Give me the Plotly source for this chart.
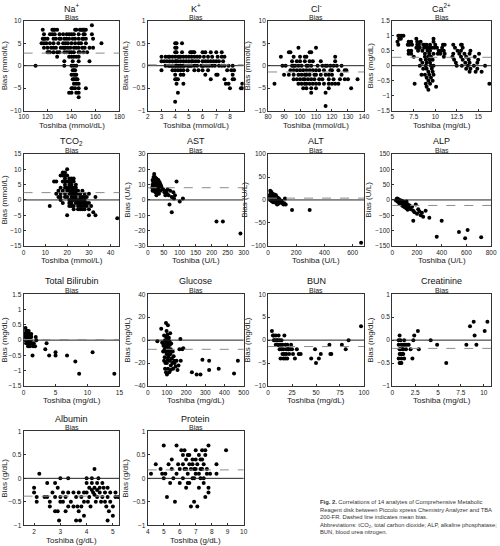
import plotly.graph_objects as go

# ---- data ----
# quantised panels: bias level -> Toshiba values
na_rows = {9: [157], 8: [116, 124, 125, 126, 128, 143, 144, 147, 148, 149, 150, 151, 152],
           7: [117, 122, 124, 126, 130, 133, 136, 138, 140, 142, 146, 150, 151, 157],
           6: [116, 117, 118, 120, 125, 127, 130, 131, 134, 136, 138, 141, 143, 146, 149, 150, 152, 158],
           5: [115, 117, 119, 122, 125, 129, 133, 135, 137, 140, 143, 146, 148, 152, 165],
           4: [117, 120, 123, 125, 127, 131, 133, 134, 135, 137, 139, 142, 144, 146, 149, 151, 155, 158],
           3: [120, 121, 122, 125, 128, 130, 134, 136, 138, 140, 142, 146, 147, 150, 153],
           2: [128, 138, 140, 142, 144, 146], 1: [134, 141, 146, 155], 0: [110, 134, 140, 142, 144],
           -1: [141, 142, 143], -2: [140, 142, 143, 144], -3: [141, 142, 143, 144, 145],
           -4: [142, 144, 146], -5: [140, 141, 143, 146, 152], -6: [138, 140, 144, 146], -7: [146]}

k_rows = {0.5: [4.0, 4.1, 4.5], 0.4: [4.0, 4.1],
          0.3: [4.0, 4.1, 4.5, 5.1, 5.2, 5.3, 5.4, 6.0, 6.2, 6.6, 7.0, 7.4],
          0.2: [3.0, 3.3, 3.5, 3.6, 3.8, 4.0, 4.2, 4.3, 4.4, 4.6, 4.8, 5.0, 5.2, 5.4, 5.6, 5.8, 6.1, 6.4, 6.7, 7.1, 7.4, 7.6],
          0.1: [3.0, 3.2, 3.4, 3.6, 3.8, 4.0, 4.1, 4.2, 4.4, 4.6, 4.8, 5.0, 5.2, 5.3, 5.5, 5.7, 6.0, 6.2, 6.4, 6.6, 6.8, 7.0, 7.2, 7.5],
          0.0: [3.3, 3.5, 3.6, 3.7, 3.8, 3.9, 4.0, 4.1, 4.2, 4.3, 4.4, 4.5, 4.6, 4.7, 4.9, 5.0, 5.1, 5.2, 5.4, 5.6,
                5.9, 6.0, 6.1, 6.3, 6.5, 6.7, 6.9, 7.2, 7.4, 7.6, 7.9, 8.2],
          -0.1: [3.0, 3.8, 4.0, 4.2, 4.4, 4.6, 4.9, 5.4, 5.7, 6.0, 6.4, 7.8, 8.1, 8.3],
          -0.2: [4.0, 4.4, 4.6, 6.2, 7.0, 7.1, 8.2], -0.3: [4.0, 4.1, 4.2, 6.6, 7.6, 8.2, 8.3],
          -0.4: [4.1, 4.6, 7.7, 7.9, 8.9], -0.5: [8.0, 8.8, 8.9], -0.6: [4.2], -0.8: [4.0]}

cl_rows = {4: [99, 110], 3: [93, 94, 106, 107], 2: [88, 96, 100, 103, 104, 122],
           1: [95, 98, 100, 103, 106, 108, 113, 122],
           0: [89, 91, 95, 96, 97, 99, 101, 104, 105, 107, 111, 114, 116, 117, 119, 121, 123, 126],
           -1: [94, 96, 98, 100, 102, 104, 106, 108, 110, 112, 115, 119, 120, 124, 128, 129],
           -2: [90, 93, 96, 99, 101, 103, 104, 106, 109, 110, 113, 116, 118, 120, 126],
           -3: [96, 98, 100, 102, 103, 105, 107, 109, 112, 114, 118, 121, 125, 128, 130, 136],
           -4: [84, 99, 101, 103, 104, 106, 108, 110, 112, 115, 118, 120, 122, 124],
           -5: [102, 104, 107, 110, 118, 132], -6: [107, 116], -9: [116]}

ca_rows = {1.0: [5.7, 5.9, 6.1, 6.3], 0.9: [5.8, 6.0, 7.8, 9.8], 0.8: [5.6, 6.9, 7.2, 7.9, 8.3, 9.8],
           0.7: [5.7, 6.8, 7.0, 7.3, 7.9, 8.1, 8.6, 8.8, 9.0, 9.4, 10.0, 10.9, 11.1, 12.1, 13.0, 13.1],
           0.6: [7.8, 8.0, 8.2, 8.7, 9.0, 9.3, 9.6, 9.9, 10.2, 10.8, 12.3, 13.2],
           0.5: [6.9, 7.2, 8.0, 8.5, 9.1, 9.4, 10.4, 10.7, 11.0, 12.6, 13.0, 14.1],
           0.4: [6.9, 7.2, 8.8, 9.3, 9.8, 10.3, 10.6, 11.1, 12.1, 12.8, 13.4, 14.0, 15.1],
           0.3: [7.5, 8.8, 9.2, 9.5, 11.0, 12.0, 13.0, 13.6, 14.6],
           0.2: [8.3, 8.9, 9.3, 9.7, 12.2, 13.2, 13.9, 15.0],
           0.1: [8.5, 9.0, 9.4, 12.4, 13.5, 14.0, 14.9],
           0.0: [8.2, 8.9, 9.5, 9.8, 12.5, 13.1, 13.8, 14.5, 15.8],
           -0.1: [8.6, 9.0, 9.6, 13.6, 14.1, 14.9], -0.2: [9.2, 9.7, 14.0, 14.7, 15.4],
           -0.3: [8.4, 8.8, 9.3, 9.8], -0.4: [9.0, 9.5], -0.5: [9.2, 9.7],
           -0.6: [7.6, 8.9, 9.4, 16.3], -0.7: [9.0, 10.1], -0.8: [9.2]}

tco2_rows = {10: [20], 9: [18, 19], 8: [17, 18, 19, 20], 7: [19, 21, 22, 23],
             6: [14, 15, 18, 19, 20, 21, 22, 23], 5: [19, 21, 22, 24], 4: [17, 19, 20, 21, 22, 23, 24],
             3: [16, 18, 20, 21, 22, 23, 24, 25, 27], 2: [15, 17, 19, 21, 22, 23, 24, 25, 26, 28, 30],
             1: [16, 17, 19, 20, 22, 23, 24, 26, 27, 28, 29, 33], 0: [17, 21, 22, 23, 24, 25, 26, 27, 28],
             -1: [18, 21, 22, 24, 25, 26, 27, 28, 29, 30], -2: [12, 21, 22, 23, 25, 26, 27, 28, 29, 31],
             -3: [23, 25, 26, 27, 28, 30], -4: [32], -5: [20, 30, 33], -6: [43]}

# (Toshiba, bias) pairs
ast_pts = [(20, 17), (18, 15), (22, 15), (25, 14), (15, 13), (20, 13), (28, 13), (17, 12), (24, 12), (30, 12),
           (35, 12), (18, 11), (22, 11), (26, 11), (32, 11), (38, 11), (15, 10), (20, 10), (24, 10), (28, 10),
           (33, 10), (16, 9), (21, 9), (25, 9), (30, 9), (36, 9), (42, 9), (14, 8), (19, 8), (23, 8), (27, 8),
           (31, 8), (17, 7), (22, 7), (26, 7), (34, 7), (45, 7), (20, 6), (25, 6), (30, 6), (40, 6), (24, 5),
           (28, 5), (52, 5), (35, 4), (60, 4), (27, 3), (55, 3), (65, 3), (70, 6), (62, 7), (80, 5), (85, 3),
           (75, 2), (82, 1), (90, 12), (100, -1), (110, 1), (68, -3), (75, -8), (215, -14), (235, -14),
           (290, -22), (15, 6), (18, 10), (22, 13), (27, 14), (33, 13), (40, 10), (48, 7), (58, 6)]

alt_pts = [(15, 20), (18, 15), (20, 12), (22, 18), (25, 10), (28, 8), (30, 14), (32, 5), (35, 10), (38, 3),
           (40, 8), (42, 0), (45, 6), (48, 2), (50, 10), (52, -2), (55, 4), (58, 7), (60, 0), (62, -5),
           (65, 3), (68, -2), (70, 5), (72, -8), (75, 0), (78, -3), (80, 2), (85, -4), (90, -6), (95, -2),
           (100, -5), (105, -8), (110, -10), (115, -7), (120, 3), (125, -10), (12, 5), (14, 0), (16, 8),
           (24, 3), (26, -3), (34, 0), (36, -5), (44, -2), (54, -6), (64, -10), (20, 2), (10, 10), (30, -1),
           (46, 12), (56, 10), (170, -22), (295, -22), (660, -93)]

alp_pts = [(35, 3), (40, 5), (45, 0), (50, 2), (55, -3), (60, -1), (65, -5), (70, -8), (75, -3), (80, -10),
           (85, -6), (90, -12), (95, -8), (100, -15), (105, -10), (110, -18), (115, -5), (120, -20), (125, -14),
           (130, -25), (140, -18), (150, -30), (160, -22), (45, -6), (55, -10), (65, -14), (75, -16), (85, -20),
           (95, -22), (105, -25), (115, -28), (125, -32), (170, -35), (180, -40), (190, -15), (200, -45),
           (210, -30), (220, -38), (230, -50), (240, -42), (250, -55), (270, -35), (300, -58), (170, -68),
           (360, -120), (400, -68), (540, -105), (590, -125), (610, -98), (720, -122), (30, -2), (50, -4),
           (60, -8), (70, -2), (80, -4), (90, -6)]

tbil_pts = [(0.3, 0.4), (0.4, 0.3), (0.5, 0.3), (0.6, 0.2), (0.3, 0.2), (0.5, 0.2), (0.7, 0.2), (0.9, 0.2),
            (0.4, 0.1), (0.6, 0.1), (0.8, 0.1), (1.0, 0.1), (1.2, 0.1), (0.3, 0.0), (0.5, 0.0), (0.7, 0.0),
            (0.9, 0.0), (1.1, 0.0), (0.4, -0.1), (0.6, -0.1), (0.8, -0.1), (1.0, -0.1), (1.3, -0.1), (1.6, -0.1),
            (0.7, -0.2), (1.0, -0.2), (1.5, -0.2), (1.8, -0.2), (0.5, 0.25), (0.8, 0.3), (1.2, 0.2), (1.9, 0.1),
            (2.0, 0.0), (1.4, -0.5), (3.6, -0.1), (3.4, -0.3), (4.0, -0.5), (5.0, -0.4), (5.0, -0.5),
            (6.8, -0.5), (8.1, -0.7), (8.7, -1.1), (10.8, -0.4), (14.2, -1.1), (0.2, 0.2), (0.3, 0.1),
            (0.6, 0.3), (1.1, 0.15), (0.9, -0.05)]

glu_pts = [(50, -1), (70, 10), (75, -2), (80, -10), (82, -5), (85, 4), (88, -15), (90, 0), (92, -7), (95, 15),
           (95, 3), (97, -4), (98, -12), (100, -20), (100, 1), (102, -8), (103, 5), (104, -2), (105, -25),
           (105, 13), (106, -15), (108, -6), (110, -10), (110, 2), (112, -28), (113, -1), (115, -18), (115, -4),
           (117, 6), (118, -12), (120, -22), (120, -8), (122, -3), (125, -16), (128, -20), (130, -10),
           (132, -25), (135, -14), (138, -18), (140, -20), (145, -23), (150, -18), (155, -26), (160, -22),
           (165, -8), (170, 1), (172, -18), (180, -8), (185, -7), (90, -25), (95, -28), (100, -30), (85, -18),
           (80, -3), (93, -10), (96, -1), (99, -6), (101, -3), (107, 0), (111, -13), (116, -9), (119, -26),
           (230, -28), (255, -30), (275, -30), (285, -17), (320, -18), (320, -26), (370, -25), (450, -29),
           (470, -18), (92, -20), (98, 8), (104, -17), (88, -8)]

bun_pts = [(4, 2), (5, 1), (6, 0), (8, 1), (9, 0), (10, -1), (11, 1), (12, 0), (13, -1), (14, 0), (15, -1),
           (16, -2), (17, 1), (18, -1), (19, -2), (20, -1), (21, -2), (22, -3), (24, -1), (25, -2), (26, -3),
           (28, -4), (30, -2), (32, -3), (34, -3), (8, -1), (10, 0), (12, -2), (13, -4), (15, -3), (16, -4),
           (17, -3), (18, -4), (19, -3), (20, -4), (21, -2), (23, -2), (14, -2), (11, -1), (9, -1), (7, 0),
           (6, 1), (45, -4), (49, -2), (50, -5), (53, -4), (55, -3), (64, -1), (65, -3), (66, -3), (77, -1),
           (81, -2), (84, 0), (97, 3)]

cre_pts = [(0.8, 0.1), (0.9, 0.0), (0.7, -0.1), (1.0, -0.1), (1.2, -0.1), (0.8, -0.2), (1.1, -0.2), (0.9, -0.3),
           (1.2, -0.3), (0.7, -0.4), (1.0, -0.4), (0.8, -0.5), (0.9, -0.5), (1.3, 0.0), (1.4, -0.1), (1.5, -0.2),
           (1.6, -0.1), (1.8, -0.1), (2.0, -0.2), (2.2, -0.4), (2.3, 0.0), (2.4, 0.1), (2.8, 0.2), (2.9, -0.2),
           (0.7, 0.0), (1.1, -0.3), (0.9, -0.2), (1.0, -0.3), (1.2, -0.2), (0.8, -0.3), (1.3, -0.4), (1.0, -0.5),
           (4.2, 0.0), (4.9, -0.1), (5.9, -0.5), (8.1, -0.1), (8.5, 0.3), (8.9, 0.4), (9.0, 0.1), (9.2, -0.1),
           (10.1, 0.2), (10.4, 0.4)]

alb_pts = [(2.0, -0.2), (2.0, -0.3), (2.1, -0.4), (2.1, -0.5), (2.2, 0.1), (2.5, -0.1), (2.4, -0.4), (2.5, -0.4),
           (2.6, -0.5), (2.6, -0.6), (2.7, -0.3), (2.8, -0.1), (2.8, -0.4), (2.9, -0.2), (2.8, -0.7), (2.9, -0.7),
           (2.95, -0.9), (3.0, -0.4), (3.0, -0.5), (3.0, 0.0), (3.1, -0.3), (3.1, -0.5), (3.2, -0.4), (3.2, -0.7),
           (3.3, 0.0), (3.3, -0.6), (3.3, -0.3), (3.4, -0.5), (3.5, -0.6), (3.5, -0.3), (3.6, -0.4), (3.6, -0.9),
           (3.65, -0.6), (3.7, -0.3), (3.7, -0.7), (3.75, -0.9), (3.8, -0.4), (3.8, -0.6), (3.9, -0.3),
           (3.9, -0.8), (4.0, -0.1), (4.0, -0.3), (4.0, 0.0), (4.05, -0.5), (4.1, -0.2), (4.1, -0.4),
           (4.15, -0.6), (4.2, -0.1), (4.2, 0.0), (4.25, -0.3), (4.3, 0.2), (4.3, -0.2), (4.35, -0.5),
           (4.4, -0.1), (4.4, -0.4), (4.45, 0.0), (4.5, -0.2), (4.5, -0.3), (4.55, -0.5), (4.6, -0.1),
           (4.6, -0.4), (4.65, -0.2), (4.7, -0.3), (4.7, -0.5), (4.75, -0.6), (4.8, -0.2), (4.8, -0.4),
           (4.8, -0.9), (4.85, -0.7), (4.9, -0.3), (4.9, -0.5), (5.0, -0.8), (5.0, -0.6), (5.1, -0.4),
           (5.1, -0.3), (5.2, -0.4), (4.2, -0.25), (4.4, -0.25), (3.9, -0.5), (4.3, -0.35)]

pro_pts = [(4.2, 0.1), (4.5, 0.3), (4.8, 0.2), (4.9, 0.1), (5.0, 0.7), (5.0, 0.0), (5.1, 0.1), (5.2, -0.4),
           (5.3, 0.3), (5.4, -0.1), (5.5, 0.2), (5.5, 0.4), (5.6, 0.0), (5.7, -0.5), (5.8, 0.7), (5.8, 0.1),
           (5.9, 0.3), (6.0, -0.1), (6.0, 0.2), (6.1, 0.6), (6.2, 0.3), (6.2, 0.0), (6.3, 0.6), (6.3, 0.2),
           (6.4, -0.2), (6.4, 0.4), (6.5, 0.1), (6.5, 0.5), (6.6, 0.3), (6.6, -0.1), (6.7, 0.2), (6.7, -0.6),
           (6.8, 0.4), (6.8, 0.0), (6.9, -0.5), (6.9, 0.2), (7.0, 0.6), (7.0, 0.1), (7.1, -0.6), (7.1, 0.3),
           (7.2, 0.5), (7.2, -0.2), (7.3, 0.0), (7.3, 0.4), (7.4, 0.2), (7.4, 0.6), (7.5, -0.1), (7.5, 0.3),
           (7.6, -0.4), (7.6, 0.5), (7.7, 0.1), (7.7, 0.2), (7.8, 0.7), (7.8, -0.3), (7.8, -0.2), (7.9, 0.1),
           (8.3, 0.3), (8.3, 0.1), (8.9, 0.6), (6.6, 0.5), (6.8, 0.3), (7.0, 0.2), (7.2, 0.1), (7.4, 0.4),
           (6.4, 0.2), (6.2, 0.5), (7.6, 0.6), (7.0, 0.4), (6.9, 0.0), (6.5, -0.1), (7.3, 0.2), (7.5, 0.0)]

analytes = ["Na<sup>+</sup>", "K<sup>+</sup>", "Cl<sup>-</sup>", "Ca<sup>2+</sup>",
            "TCO<sub>2</sub>", "AST", "ALT", "ALP",
            "Total Bilirubin", "Glucose", "BUN", "Creatinine",
            "Albumin", "Protein"]
mean_bias = [2.8, 0.02, -1.4, 0.28, 2.4, 8, 4, -18, 0.02, -8, -1.4, -0.18, -0.38, 0.18]
y_units = ["mmol/L", "mmol/L", "mmol/L", "mg/dL", "mmol/L", "U/L", "U/L", "U/L",
           "mg/dL", "mg/dL", "mg/dL", "mg/dL", "g/dL", "g/dL"]
x_units = ["mmol/dL", "mmol/dL", "mmol/dL", "mg/dL", "mmol/L", "U/L", "U/L", "U/L",
           "mg/dL", "mg/dL", "mg/dL", "mg/dL", "g/dL", "g/dL"]
x_ranges = [[100, 180], [2, 9], [80, 140], [5, 16.5], [0, 44], [0, 300], [0, 680], [0, 800],
            [0, 15], [0, 500], [0, 100], [0, 10.8], [1.6, 5.25], [4, 10]]
x_ticks = [[100, 120, 140, 160, 180], [2, 3, 4, 5, 6, 7, 8], [80, 90, 100, 110, 120, 130, 140],
           [5, 7.5, 10, 12.5, 15], [0, 10, 20, 30, 40], [0, 50, 100, 150, 200, 250, 300], [0, 200, 400, 600],
           [0, 200, 400, 600, 800], [0, 5, 10, 15], [0, 100, 200, 300, 400, 500], [0, 25, 50, 75, 100],
           [0, 2.5, 5, 7.5, 10], [2, 3, 4, 5], [4, 5, 6, 7, 8, 9, 10]]
y_ranges = [[-10, 10], [-1, 1], [-10, 10], [-1.5, 1.5], [-15, 15], [-30, 30], [-100, 100], [-150, 150],
            [-1.5, 1.5], [-40, 40], [-10, 10], [-1, 1], [-1, 1], [-1, 1]]
y_dticks = [5, 0.5, 5, 0.5, 5, 10, 50, 50, 0.5, 20, 5, 0.5, 0.5, 0.5]


def rows_to_xy(rows):
    xs, ys = [], []
    for b, vals in rows.items():
        for v in vals:
            xs.append(v)
            ys.append(b)
    return xs, ys


def pts_to_xy(pts):
    return [p[0] for p in pts], [p[1] for p in pts]


panel_data = [rows_to_xy(na_rows), rows_to_xy(k_rows), rows_to_xy(cl_rows), rows_to_xy(ca_rows),
              rows_to_xy(tco2_rows), pts_to_xy(ast_pts), pts_to_xy(alt_pts), pts_to_xy(alp_pts),
              pts_to_xy(tbil_pts), pts_to_xy(glu_pts), pts_to_xy(bun_pts), pts_to_xy(cre_pts),
              pts_to_xy(alb_pts), pts_to_xy(pro_pts)]

#### layout in pixels ####
W, H = 500, 546
col_px = [(19, 117), (146, 244), (269, 367), (396, 497)]
row_px = [(17, 108), (152, 245), (294, 387), (433, 528)]
font_family = "Liberation Sans, Arial, Helvetica, sans-serif"

fig = go.Figure()
layout_axes = {}
annotations = []
shapes = []

for i in range(14):
    r, c = divmod(i, 4)
    n = i + 1
    xa = "x" if n == 1 else f"x{n}"
    ya = "y" if n == 1 else f"y{n}"
    x0, x1 = col_px[c]
    y0, y1 = row_px[r]
    xs, ys = panel_data[i]

    fig.add_trace(go.Scatter(x=xs, y=ys, mode="markers", xaxis=xa, yaxis=ya,
                             marker=dict(color="black", size=4), showlegend=False,
                             hoverinfo="x+y"))

    layout_axes["xaxis" if n == 1 else f"xaxis{n}"] = dict(
        domain=[x0 / W, x1 / W], anchor=ya, range=x_ranges[i], tickvals=x_ticks[i],
        showgrid=False, zeroline=False, showline=True, linecolor="#333", linewidth=1, mirror=True,
        ticks="inside", ticklen=2, tickcolor="#333", tickfont=dict(size=6.5, color="#222"))
    layout_axes["yaxis" if n == 1 else f"yaxis{n}"] = dict(
        domain=[1 - y1 / H, 1 - y0 / H], anchor=xa, range=y_ranges[i], dtick=y_dticks[i],
        showgrid=False, zeroline=False, showline=True, linecolor="#333", linewidth=1, mirror=True,
        ticks="inside", ticklen=2, tickcolor="#333", tickfont=dict(size=6.5, color="#222"),
        title=dict(text=f"Bias ({y_units[i]})", standoff=2, font=dict(size=8, color="#222")))

    # zero line and mean bias line
    shapes.append(dict(type="line", xref=f"{xa} domain", yref=ya, x0=0, x1=1, y0=0, y1=0,
                       line=dict(color="#222", width=1)))
    shapes.append(dict(type="line", xref=f"{xa} domain", yref=ya, x0=0, x1=1,
                       y0=mean_bias[i], y1=mean_bias[i],
                       line=dict(color="#8c8c8c", width=1, dash="dash")))

    cx = (x0 + x1) / 2 / W
    annotations.append(dict(text=analytes[i], x=cx, y=1 - (y0 - 13) / H, xref="paper", yref="paper",
                            showarrow=False, xanchor="center", yanchor="middle",
                            font=dict(size=9, color="#111")))
    annotations.append(dict(text="Bias", x=cx, y=1 - (y0 - 3.5) / H, xref="paper", yref="paper",
                            showarrow=False, xanchor="center", yanchor="middle",
                            font=dict(size=7, color="#222")))
    annotations.append(dict(text=f"Toshiba ({x_units[i]})", x=cx, y=1 - (y1 + 15) / H,
                            xref="paper", yref="paper", showarrow=False, xanchor="center",
                            yanchor="middle", font=dict(size=8, color="#222")))

caption = ("<b>Fig. 2.</b> Correlations of 14 analytes of Comprehensive Metabolic<br>"
           "Reagent disk between Piccolo xpress Chemistry Analyzer and TBA<br>"
           "200-FR. Dashed line indicates mean bias.<br>"
           "Abbreviations: tCO<sub>2</sub>, total carbon dioxide; ALP, alkaline phosphatase;<br>"
           "BUN, blood urea nitrogen.")
annotations.append(dict(text=caption, x=320 / W, y=1 - 499 / H, xref="paper", yref="paper",
                        showarrow=False, xanchor="left", yanchor="top", align="left",
                        font=dict(size=5.8, color="#333")))

fig.update_layout(width=W, height=H, margin=dict(l=0, r=0, t=0, b=0),
                  paper_bgcolor="white", plot_bgcolor="white",
                  font=dict(family=font_family, color="#222"),
                  annotations=annotations, shapes=shapes, **layout_axes)

# drop the default page margin so the 500x546 figure fills the window
fig.write_html("out.html", config={"displayModeBar": False},
               post_script="document.body.style.margin='0';document.body.style.overflow='hidden';")
